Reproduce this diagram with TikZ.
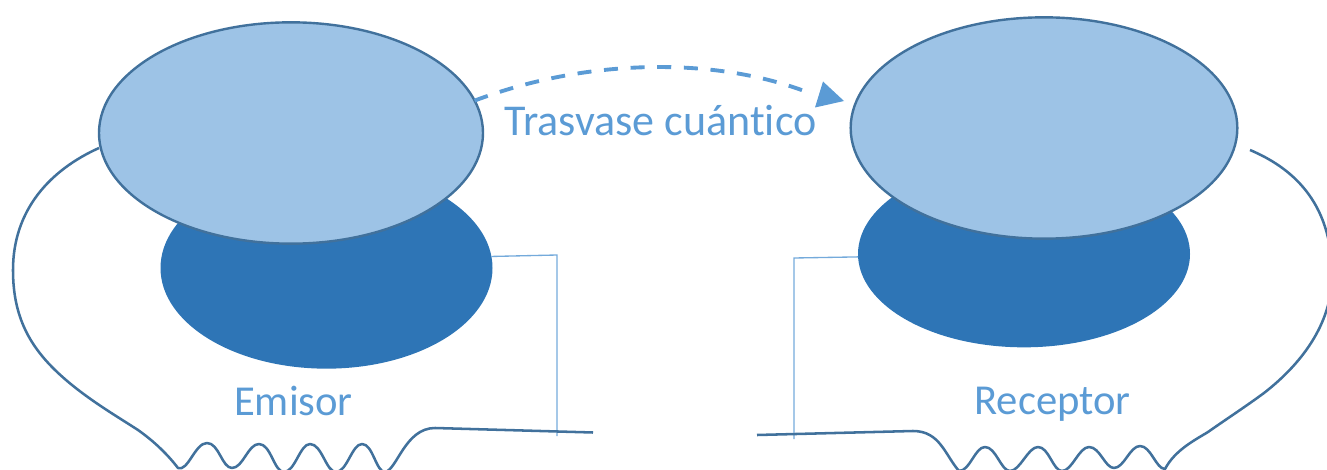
\documentclass[tikz,border=0pt]{standalone}
\usepackage{fontspec}
\setmainfont[Ligatures=NoCommon]{Carlito}
\usepackage{xcolor}
\usetikzlibrary{shapes.geometric}
\definecolor{lightlobe}{HTML}{9DC3E6}
\definecolor{darklobe}{HTML}{2E75B6}
\definecolor{edgeblue}{HTML}{41719C}
\definecolor{labelblue}{HTML}{5B9BD5}
\tikzset{
  upperlobe/.style={draw=edgeblue, line width=1.8pt, fill=lightlobe, ellipse, inner sep=0pt, outer sep=0pt},
  lowerlobe/.style={fill=darklobe, ellipse, inner sep=0pt, outer sep=0pt},
  wire/.style={draw=edgeblue, line width=1.9pt, line join=round},
  lead/.style={draw=labelblue!85!white, line width=1pt},
  caption/.style={text=labelblue, font=\fontsize{32}{34}\selectfont, inner sep=0pt},
  transfer/.style={draw=labelblue, line width=2.9pt, dash pattern=on 10.5pt off 9.5pt}
}
\begin{document}
\begin{tikzpicture}[x=0.75pt,y=-0.75pt]
\path[use as bounding box,clip] (0,0) rectangle (1327,470);

% Emisor
\node [lowerlobe, minimum width=249pt, minimum height=151pt] (emisor_low) at (326.5,268) {};
\node [upperlobe, minimum width=288pt, minimum height=166pt] (emisor_up) at (291,133) {};
\node [caption] (emisor_text) at (293.5,400.5) {Emisor};

% Receptor
\node [lowerlobe, minimum width=249pt, minimum height=140pt] (receptor_low) at (1024,254) {};
\node [upperlobe, minimum width=290pt, minimum height=166pt] (receptor_up) at (1044,128) {};
\node [caption] (receptor_text) at (1052.5,404) {Receptor};

% Trasvase
\node [caption, font=\fontsize{33}{35}\selectfont] (trasvase_text) at (660.5,121) {Trasvase cuántico};
\coordinate (arrow_tip) at (844,101);
\draw [transfer] (emisor_up.10) .. controls (590,57) and (720,57) .. (812,94);
\draw [draw=none, fill=labelblue] (arrow_tip) -- (815,107.5) -- (823,81.5) -- cycle;

\coordinate (emisor_end) at (593,432.5);
\coordinate (receptor_end) at (757,435);
\coordinate (emisor_tap) at (557,436);
\coordinate (receptor_tap) at (794,439);

% Leads
\draw [lead] (emisor_low.4) -- (557,255) -- (emisor_tap);
\draw [lead] (receptor_low.181) -- (794,258) -- (receptor_tap);

% Wires
\draw [wire] (emisor_up.west |- 0,148) .. controls (50,170) and (13,210) .. (13,270)
  .. controls (13,310) and (25,340) .. (53,368)
  .. controls (80,395) and (115,415) .. (138,430)
  .. controls (155,442) and (168,455) .. (178,468)
  .. controls (188,472) and (195,443) .. (207,443)
  .. controls (219,443) and (222,468) .. (232,468)
  .. controls (243,468) and (248,444) .. (259,444)
  .. controls (271,444) and (274,472) .. (284,472)
  .. controls (295,472) and (300,444) .. (310,444)
  .. controls (322,444) and (326,472) .. (336,472)
  .. controls (347,472) and (352,444) .. (362,444)
  .. controls (373,444) and (376,472) .. (385,472)
  .. controls (397,470) and (405,428) .. (435,428)
  -- (emisor_end);
\draw [wire] (receptor_end) -- (913,431)
  .. controls (940,431) and (945,455) .. (959,471)
  .. controls (970,471) and (975,447) .. (985,447)
  .. controls (996,447) and (1001,471) .. (1010,471)
  .. controls (1020,471) and (1028,447) .. (1038,447)
  .. controls (1049,447) and (1053,471) .. (1062,471)
  .. controls (1072,471) and (1079,447) .. (1089,447)
  .. controls (1100,447) and (1105,468) .. (1114,468)
  .. controls (1124,468) and (1130,446) .. (1140,446)
  .. controls (1151,446) and (1156,469) .. (1165,469)
  .. controls (1175,450) and (1195,440) .. (1208,432)
  .. controls (1225,420) and (1245,407) .. (1264,393)
  .. controls (1300,365) and (1332,325) .. (1332,275)
  .. controls (1332,200) and (1290,167) .. (1250,150);
\end{tikzpicture}
\end{document}
